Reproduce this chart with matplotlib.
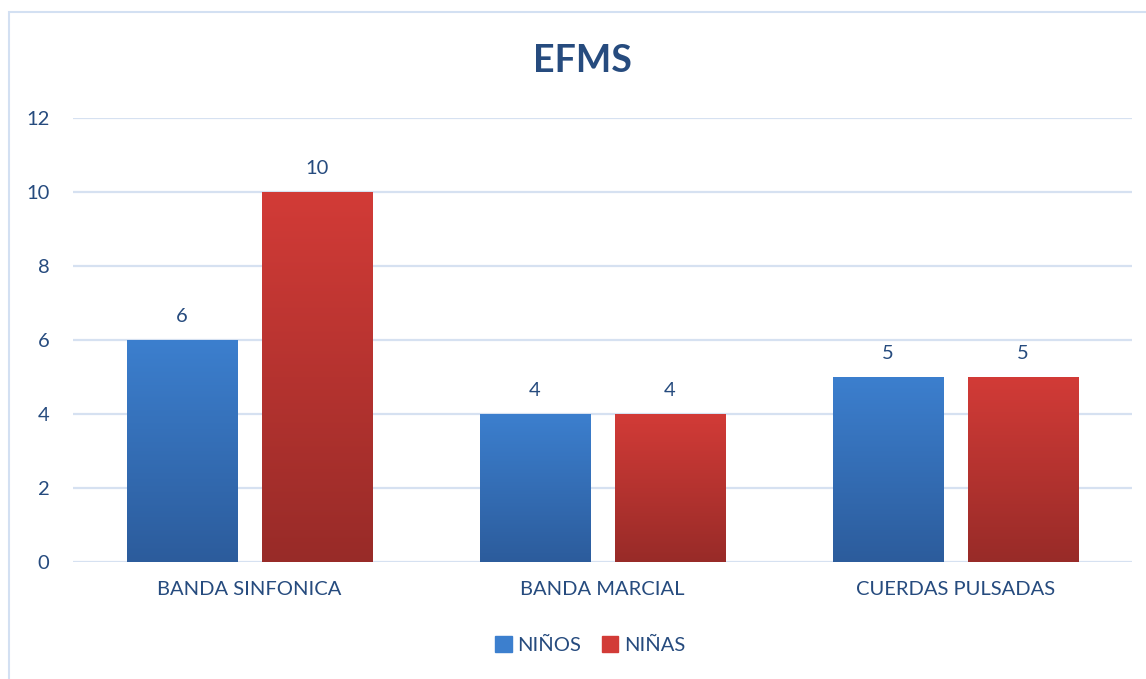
import numpy as np
import matplotlib.pyplot as plt
from matplotlib.colors import LinearSegmentedColormap
from matplotlib.patches import Rectangle

# data
categories = ["BANDA SINFONICA", "BANDA MARCIAL", "CUERDAS PULSADAS"]
ninos = [6, 4, 5]
ninas = [10, 4, 5]
series_names = ["NIÑOS", "NIÑAS"]
yticks = [0, 2, 4, 6, 8, 10, 12]

text_color = "#264B7E"
grid_color = "#D6E1F1"
blue_top, blue_bot = "#3C7FCE", "#2C5C9C"
red_top, red_bot = "#D23B37", "#982B28"

plt.rcParams["font.family"] = ["Lato", "DejaVu Sans"]

fig = plt.figure(figsize=(11.46, 6.79), dpi=100)
ax = fig.add_axes([0.0637, 0.1723, 0.9241, 0.6539])

# chart frame (cut off at right/bottom like the screenshot)
fig.patches.append(Rectangle((9 / 1146, -0.1), 1.2, 1 - 12 / 679 + 0.1,
                             transform=fig.transFigure, fill=False,
                             edgecolor="#D3E0F2", linewidth=1.5, zorder=0))

x = np.arange(len(categories))
w = 0.312
off = 0.191


def gradient_bars(bars, top, bot):
    cmap = LinearSegmentedColormap.from_list("g", [bot, top])
    grad = np.linspace(0, 1, 256).reshape(-1, 1)
    for b in bars:
        x0, y0 = b.get_x(), b.get_y()
        x1, y1 = x0 + b.get_width(), y0 + b.get_height()
        ax.imshow(grad, cmap=cmap, origin="lower", aspect="auto",
                  extent=[x0, x1, y0, y1], zorder=3)
        b.set_alpha(0)


b1 = ax.bar(x - off, ninos, w, color=blue_top, label=series_names[0], zorder=2)
b2 = ax.bar(x + off, ninas, w, color=red_top, label=series_names[1], zorder=2)
gradient_bars(b1, blue_top, blue_bot)
gradient_bars(b2, red_top, red_bot)

for bars, vals in [(b1, ninos), (b2, ninas)]:
    for b, v in zip(bars, vals):
        ax.annotate(str(v), (b.get_x() + b.get_width() / 2, v),
                    xytext=(0, 11), textcoords="offset points",
                    ha="center", va="bottom", color=text_color, fontsize=14.5)

ax.set_xlim(-0.5, len(categories) - 0.5)
ax.set_ylim(0, 12)
ax.set_yticks(yticks)
ax.set_xticks(x)
ax.set_xticklabels(categories)
ax.tick_params(axis="both", length=0, colors=text_color, labelsize=14.5)
ax.tick_params(axis="x", pad=14)
ax.tick_params(axis="y", pad=17)
ax.grid(axis="y", color=grid_color, linewidth=1.6)
ax.set_axisbelow(True)
for s in ax.spines.values():
    s.set_visible(False)

fig.text(0.508, 1 - 61 / 679, "EFMS", ha="center", va="center",
         fontsize=27, fontweight="bold", color=text_color)

h1 = Rectangle((0, 0), 1, 1, color=blue_top)
h2 = Rectangle((0, 0), 1, 1, color=red_top)
fig.legend([h1, h2], series_names, loc="center", bbox_to_anchor=(0.515, 1 - 645 / 679),
           ncol=2, frameon=False, fontsize=14.5, labelcolor=text_color,
           handlelength=0.8, handleheight=0.8, handletextpad=0.3, columnspacing=1.0)

fig.savefig("out.png", dpi=100)
